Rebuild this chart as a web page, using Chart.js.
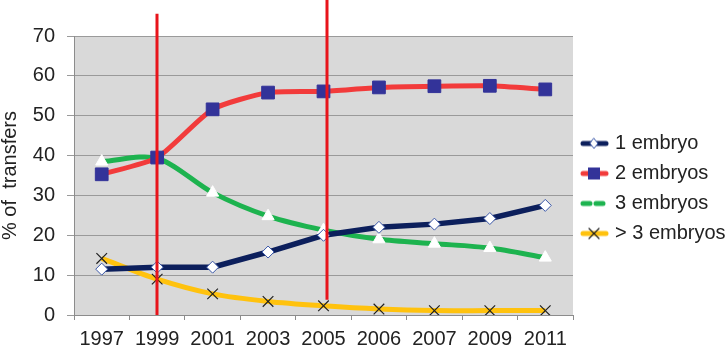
<!DOCTYPE html>
<html>
<head>
<meta charset="utf-8">
<script src="https://cdn.jsdelivr.net/npm/chart.js@4/dist/chart.umd.min.js"></script>
<style>
  html, body { margin: 0; padding: 0; background: #fff; }
  #wrap { width: 727px; height: 349px; }
</style>
</head>
<body>
<div id="wrap"><canvas id="myChart" width="727" height="349"></canvas></div>
<script>
const years = ["1997", "1999", "2001", "2003", "2005", "2006", "2007", "2009", "2011"];
const oneEmbryo = [11.5, 12, 12, 15.8, 20, 22, 22.8, 24.2, 27.5];
const twoEmbryos = [35.3, 39.5, 51.6, 55.8, 56.1, 57.1, 57.4, 57.5, 56.6];
const threeEmbryos = [38.5, 39.3, 30.7, 24.8, 21.3, 19, 17.9, 16.8, 14.4];
const moreEmbryos = [14.2, 9, 5.3, 3.4, 2.3, 1.5, 1.1, 1.1, 1.1];
const yTicks = [0, 10, 20, 30, 40, 50, 60, 70];
// policy change years marked with red lines
const markYears = ["1999", "2005"];

const FONT = "'Liberation Sans', Arial, sans-serif";
const ctx = document.getElementById("myChart").getContext("2d");

// little line + marker swatch for the legend
const swatch = (color, dash, drawMarker) => {
  const c = document.createElement("canvas");
  c.width = 30;
  c.height = 16;
  const g = c.getContext("2d");
  g.strokeStyle = color;
  g.lineWidth = 5;
  g.lineCap = "round";
  if (dash) g.setLineDash(dash);
  g.beginPath();
  g.moveTo(4, 8);
  g.lineTo(27, 8);
  g.stroke();
  g.setLineDash([]);
  if (drawMarker) drawMarker(g, 15, 8);
  return c;
};

const legendIcons = [
  swatch("#0c1f5c", null, (g, x, y) => {
    g.fillStyle = "#fff";
    g.strokeStyle = "#3a57a8";
    g.lineWidth = 1;
    g.beginPath();
    g.moveTo(x, y - 5);
    g.lineTo(x + 4, y);
    g.lineTo(x, y + 5);
    g.lineTo(x - 4, y);
    g.closePath();
    g.fill();
    g.stroke();
  }),
  swatch("#f23b3b", null, (g, x, y) => {
    g.fillStyle = "#333399";
    g.fillRect(x - 6, y - 6, 12, 12);
  }),
  swatch("#1db34f", [7, 6], null),
  swatch("#ffc20e", null, (g, x, y) => {
    g.strokeStyle = "#222";
    g.lineWidth = 1.2;
    g.beginPath();
    g.moveTo(x - 5, y - 5);
    g.lineTo(x + 5, y + 5);
    g.moveTo(x + 5, y - 5);
    g.lineTo(x - 5, y + 5);
    g.stroke();
  }),
];

const plotBackground = {
  id: "plotBackground",
  beforeDraw(chart) {
    const { ctx, chartArea } = chart;
    ctx.save();
    ctx.fillStyle = "#d9d9d9";
    ctx.fillRect(chartArea.left, chartArea.top, chartArea.right - chartArea.left, chartArea.bottom - chartArea.top);
    ctx.restore();
  },
};

// nudge the legend block up a little
const legendShift = {
  id: "legendShift",
  afterLayout(chart) {
    if (chart.legend) {
      chart.legend.top -= 4;
      chart.legend.bottom -= 4;
    }
  },
};

const markLines = {
  id: "markLines",
  afterDraw(chart) {
    const { ctx, scales } = chart;
    const x = scales.x;
    const y = scales.y;
    ctx.save();
    ctx.strokeStyle = "#e8141b";
    ctx.lineWidth = 3;
    // first line stops at the axis, second one starts at the top edge
    const spans = [
      [y.getPixelForValue(75.6), y.getPixelForValue(0)],
      [0, y.getPixelForValue(3.8)],
    ];
    markYears.forEach((yr, i) => {
      const px = Math.round(x.getPixelForValue(years.indexOf(yr))) + (i === 1 ? 3 : 0);
      ctx.beginPath();
      ctx.moveTo(px, spans[i][0]);
      ctx.lineTo(px, spans[i][1]);
      ctx.stroke();
    });
    ctx.restore();
  },
};

new Chart(ctx, {
  type: "line",
  data: {
    labels: years,
    datasets: [
      {
        label: "1 embryo",
        data: oneEmbryo,
        borderColor: "#0c1f5c",
        borderWidth: 5.5,
        tension: 0,
        pointStyle: "rectRot",
        pointRadius: 6,
        pointBackgroundColor: "#ffffff",
        pointBorderColor: "#3a57a8",
        pointBorderWidth: 1,
      },
      {
        label: "2 embryos",
        data: twoEmbryos,
        borderColor: "#f23b3b",
        borderWidth: 5,
        tension: 0.2,
        pointStyle: "rect",
        pointRadius: 9,
        pointBackgroundColor: "#333399",
        pointBorderColor: "#333399",
        pointBorderWidth: 1,
      },
      {
        label: "3 embryos",
        data: threeEmbryos,
        borderColor: "#1db34f",
        borderWidth: 5,
        tension: 0.3,
        pointStyle: "triangle",
        pointRadius: 7,
        pointBackgroundColor: "#ffffff",
        pointBorderColor: "#ffffff",
        pointBorderWidth: 1,
      },
      {
        label: "> 3 embryos",
        data: moreEmbryos,
        borderColor: "#ffc20e",
        borderWidth: 5,
        tension: 0.3,
        pointStyle: "crossRot",
        pointRadius: 7.5,
        pointBorderColor: "#222",
        pointBorderWidth: 1.2,
      },
    ],
  },
  options: {
    responsive: false,
    animation: false,
    layout: { padding: { top: 36, left: 0, right: 0, bottom: 0 } },
    plugins: {
      tooltip: { enabled: false },
      legend: {
        position: "right",
        maxWidth: 154,
        labels: {
          usePointStyle: true,
          pointStyleWidth: 22,
          padding: 10,
          color: "#222",
          font: { family: FONT, size: 20 },
          generateLabels: (chart) =>
            chart.data.datasets.map((ds, i) => ({
              text: ds.label,
              pointStyle: legendIcons[i],
              fontColor: "#222",
              lineWidth: 0,
              datasetIndex: i,
            })),
        },
      },
    },
    scales: {
      x: {
        offset: true,
        grid: {
          offset: true,
          drawOnChartArea: false,
          color: "#8c8c8c",
          tickLength: 5,
        },
        border: { color: "#8c8c8c" },
        ticks: {
          color: "#222",
          padding: 7,
          maxRotation: 0,
          autoSkip: false,
          font: { family: FONT, size: 20 },
        },
        afterFit: (scale) => { scale.height = 34; },
      },
      y: {
        min: 0,
        max: 70,
        afterBuildTicks: (scale) => { scale.ticks = yTicks.map((v) => ({ value: v })); },
        grid: { color: "#9a9a9a", tickLength: 7 },
        border: { color: "#8c8c8c" },
        ticks: {
          color: "#222",
          padding: 12,
          font: { family: FONT, size: 20 },
        },
        title: {
          display: true,
          text: "% of  transfers",
          color: "#222",
          padding: { top: 0, bottom: 0 },
          font: { family: FONT, size: 20, lineHeight: 1 },
        },
        afterFit: (scale) => { scale.width = 74; },
      },
    },
  },
  plugins: [plotBackground, legendShift, markLines],
});
</script>
</body>
</html>
